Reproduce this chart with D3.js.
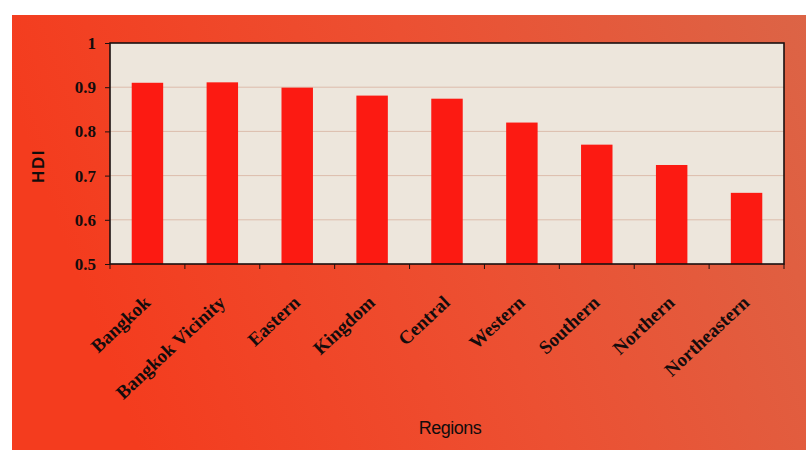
<!DOCTYPE html>
<html>
<head>
<meta charset="utf-8">
<script src="https://cdn.jsdelivr.net/npm/d3@7"></script>
<style>
  html, body { margin: 0; padding: 0; background: #ffffff; }
  svg { display: block; }
</style>
</head>
<body>
<svg id="chart" width="806" height="450"></svg>
<script>
// Human Development Index by region
const regions = ["Bangkok", "Bangkok Vicinity", "Eastern", "Kingdom", "Central",
                 "Western", "Southern", "Northern", "Northeastern"];
const hdiValues = [0.910, 0.911, 0.899, 0.881, 0.874, 0.820, 0.770, 0.724, 0.661];
const yTicks = [0.5, 0.6, 0.7, 0.8, 0.9, 1];
const yTickLabels = ["0.5", "0.6", "0.7", "0.8", "0.9", "1"];

const svg = d3.select("#chart");
const W = 806, H = 450;

// panel background gradient
const defs = svg.append("defs");
const grad = defs.append("linearGradient").attr("id", "panelGrad")
  .attr("x1", "0").attr("y1", "0.2").attr("x2", "1").attr("y2", "0");
grad.append("stop").attr("offset", "0").attr("stop-color", "#f43c1e");
grad.append("stop").attr("offset", "0.5").attr("stop-color", "#ec5032");
grad.append("stop").attr("offset", "1").attr("stop-color", "#dc6446");

svg.append("rect").attr("x", 12).attr("y", 15).attr("width", W - 12).attr("height", H - 15)
  .attr("fill", "url(#panelGrad)");

const plot = { left: 110, top: 43, right: 784, bottom: 264 };

const x = d3.scaleBand().domain(regions)
  .range([plot.left, plot.right]).paddingInner(0.58).paddingOuter(0.29);
const y = d3.scaleLinear().domain([0.5, 1]).range([plot.bottom, plot.top]);

// plot area
svg.append("rect").attr("x", plot.left).attr("y", plot.top)
  .attr("width", plot.right - plot.left).attr("height", plot.bottom - plot.top)
  .attr("fill", "#ede6dc");

// gridlines
svg.append("g").selectAll("line").data(yTicks.filter(t => t > 0.5 && t < 1)).join("line")
  .attr("x1", plot.left).attr("x2", plot.right)
  .attr("y1", d => y(d)).attr("y2", d => y(d))
  .attr("stroke", "#dcbcac").attr("stroke-width", 1);

// bars
svg.append("g").selectAll("rect").data(regions).join("rect")
  .attr("x", d => x(d))
  .attr("width", x.bandwidth())
  .attr("y", (d, i) => y(hdiValues[i]))
  .attr("height", (d, i) => y(0.5) - y(hdiValues[i]))
  .attr("fill", "#fc1a12");

// plot border
svg.append("rect").attr("x", plot.left).attr("y", plot.top)
  .attr("width", plot.right - plot.left).attr("height", plot.bottom - plot.top)
  .attr("fill", "none").attr("stroke", "#1a1010").attr("stroke-width", 1.6);

// y axis
const yAxis = d3.axisLeft(y).tickValues(yTicks)
  .tickFormat((d, i) => yTickLabels[i]).tickSize(5).tickPadding(9);
const gy = svg.append("g").attr("transform", `translate(${plot.left},0)`).call(yAxis);
gy.select(".domain").remove();
gy.selectAll(".tick line").attr("stroke", "#1a1010");
gy.selectAll(".tick text")
  .attr("font-family", "'Liberation Serif', 'Times New Roman', serif")
  .attr("font-weight", "bold").attr("font-size", 17).attr("fill", "#140c0c");

// x axis: ticks at category boundaries
const bounds = d3.range(regions.length + 1).map(i => plot.left + i * (plot.right - plot.left) / regions.length);
svg.append("g").selectAll("line").data(bounds).join("line")
  .attr("x1", d => d).attr("x2", d => d)
  .attr("y1", plot.bottom).attr("y2", plot.bottom + 5)
  .attr("stroke", "#1a1010").attr("stroke-width", 1);

const xAxis = d3.axisBottom(x).tickSize(0).tickPadding(0);
const gx = svg.append("g").attr("transform", `translate(0,${plot.bottom})`).call(xAxis);
gx.select(".domain").remove();
gx.selectAll(".tick text")
  .attr("font-family", "'Liberation Serif', 'Times New Roman', serif")
  .attr("font-weight", "bold").attr("font-size", 19).attr("fill", "#140c0c")
  .attr("text-anchor", "end")
  .attr("dy", null).attr("y", null)
  .attr("transform", "translate(4,40) rotate(-43)");

// axis titles
svg.append("text").attr("x", 450).attr("y", 434)
  .attr("text-anchor", "middle")
  .attr("font-family", "'Liberation Sans', Arial, sans-serif")
  .attr("font-size", 18).attr("letter-spacing", -0.5).attr("fill", "#120c0c")
  .text("Regions");

svg.append("text")
  .attr("transform", "translate(44,166) rotate(-90)")
  .attr("text-anchor", "middle")
  .attr("font-family", "'Liberation Sans', Arial, sans-serif")
  .attr("font-weight", "bold").attr("font-size", 17).attr("letter-spacing", 1.5)
  .attr("fill", "#120c0c")
  .text("HDI");
</script>
</body>
</html>
